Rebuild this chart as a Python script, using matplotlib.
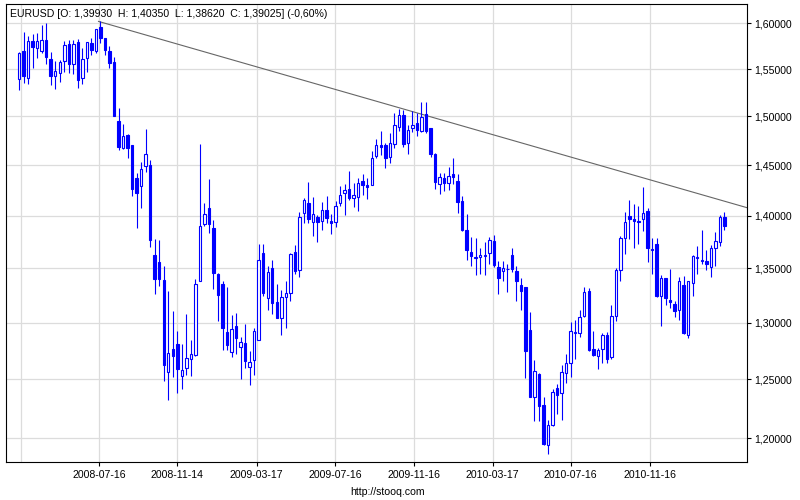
import pandas as pd
import matplotlib
matplotlib.use('Agg')
import matplotlib.pyplot as plt
import matplotlib.dates as mdates
from matplotlib.ticker import FixedLocator, FixedFormatter, NullLocator

# weekly EURUSD candles, week ending Friday
dates = pd.date_range('2008-03-14', periods=157, freq='W-FRI')

opens = [
    1.5396, 1.5694, 1.5406, 1.5800, 1.5726, 1.5690, 1.5816, 1.5608, 1.5424, 1.5458,
    1.5583, 1.5773, 1.5550, 1.5788, 1.5406, 1.5618, 1.5777, 1.5694, 1.5957, 1.5838,
    1.5698, 1.5575, 1.4948, 1.4674, 1.4806, 1.4702, 1.4373, 1.4290, 1.4494, 1.4507,
    1.3630, 1.3561, 1.3395, 1.2565, 1.2765, 1.2809, 1.2530, 1.2601, 1.2681, 1.2717,
    1.3383, 1.3922, 1.4078, 1.3886, 1.3452, 1.3353, 1.2920, 1.2744, 1.2970, 1.2788,
    1.2818, 1.2610, 1.2669, 1.2848, 1.3649, 1.3223, 1.3506, 1.3187, 1.3042, 1.3232,
    1.3274, 1.3652, 1.3482, 1.4031, 1.4127, 1.3942, 1.3990, 1.3952, 1.4059, 1.3952,
    1.3942, 1.4121, 1.4225, 1.4268, 1.4176, 1.4183, 1.4346, 1.4307, 1.4300, 1.4591,
    1.4702, 1.4705, 1.4580, 1.4715, 1.4892, 1.5014, 1.4726, 1.4875, 1.4934, 1.4851,
    1.5021, 1.4875, 1.4615, 1.4314, 1.4376, 1.4323, 1.4415, 1.4346, 1.4150, 1.3868,
    1.3657, 1.3602, 1.3605, 1.3612, 1.3641, 1.3762, 1.3509, 1.3473, 1.3491, 1.3624,
    1.3473, 1.3349, 1.3327, 1.2940, 1.2348, 1.2548, 1.2283, 1.1944, 1.2114, 1.2424,
    1.2382, 1.2554, 1.2642, 1.2908, 1.2905, 1.3061, 1.3291, 1.2768, 1.2702, 1.2768,
    1.2893, 1.2700, 1.3058, 1.3482, 1.3785, 1.4000, 1.3971, 1.3955, 1.3971, 1.4049,
    1.3686, 1.3734, 1.3242, 1.3412, 1.3212, 1.3167, 1.3112, 1.3348, 1.2890, 1.3360,
    1.3602, 1.3573, 1.3573, 1.3515, 1.3692, 1.3753, 1.39930,
]
highs = [
    1.5683, 1.5900, 1.5860, 1.5880, 1.5896, 1.5980, 1.6007, 1.5687, 1.5590, 1.5600,
    1.5806, 1.5810, 1.5820, 1.5830, 1.5723, 1.5795, 1.5842, 1.5935, 1.6020, 1.5842,
    1.5744, 1.5630, 1.5087, 1.4920, 1.4816, 1.4709, 1.4422, 1.4528, 1.4868, 1.4558,
    1.3776, 1.3770, 1.3526, 1.3289, 1.3109, 1.2928, 1.2812, 1.3081, 1.2848, 1.3404,
    1.4714, 1.4130, 1.4364, 1.3964, 1.3460, 1.3380, 1.3328, 1.3072, 1.3093, 1.2869,
    1.2991, 1.2750, 1.2955, 1.3727, 1.3727, 1.3523, 1.3574, 1.3359, 1.3298, 1.3380,
    1.3646, 1.3720, 1.4040, 1.4173, 1.4337, 1.4180, 1.4010, 1.4140, 1.4196, 1.4019,
    1.4150, 1.4294, 1.4317, 1.4444, 1.4327, 1.4369, 1.4408, 1.4376, 1.4639, 1.4771,
    1.4844, 1.4726, 1.4823, 1.5038, 1.5073, 1.5066, 1.4906, 1.5056, 1.5035, 1.5149,
    1.5146, 1.4882, 1.4625, 1.4422, 1.4425, 1.4480, 1.4570, 1.4415, 1.4199, 1.4020,
    1.3795, 1.3791, 1.3695, 1.3746, 1.3798, 1.3820, 1.3570, 1.3573, 1.3541, 1.3695,
    1.3519, 1.3409, 1.3330, 1.3094, 1.2672, 1.2553, 1.2348, 1.2156, 1.2415, 1.2463,
    1.2630, 1.2723, 1.3009, 1.3030, 1.3112, 1.3330, 1.3315, 1.2923, 1.2777, 1.2910,
    1.2920, 1.3158, 1.3500, 1.3804, 1.4036, 1.4160, 1.4118, 1.4101, 1.4288, 1.4075,
    1.3788, 1.3788, 1.3439, 1.3415, 1.3494, 1.3197, 1.3418, 1.3427, 1.3385, 1.3628,
    1.3714, 1.3868, 1.3676, 1.3721, 1.3843, 1.4013, 1.40350,
]
lows = [
    1.5278, 1.5347, 1.5340, 1.5507, 1.5615, 1.5670, 1.5554, 1.5327, 1.5290, 1.5365,
    1.5472, 1.5455, 1.5451, 1.5299, 1.5340, 1.5472, 1.5647, 1.5676, 1.5777, 1.5651,
    1.5507, 1.5000, 1.4650, 1.4660, 1.4570, 1.4195, 1.3886, 1.4080, 1.4428, 1.3698,
    1.3259, 1.3337, 1.2486, 1.2327, 1.2520, 1.2384, 1.2421, 1.2538, 1.2532, 1.2708,
    1.3380, 1.3900, 1.3831, 1.3304, 1.3021, 1.2759, 1.2759, 1.2700, 1.2720, 1.2505,
    1.2601, 1.2452, 1.2535, 1.2848, 1.3247, 1.3115, 1.3081, 1.3040, 1.2887, 1.2958,
    1.3202, 1.3443, 1.3420, 1.3933, 1.3933, 1.3804, 1.3746, 1.3868, 1.3933, 1.3830,
    1.3894, 1.4095, 1.4006, 1.4157, 1.4085, 1.4046, 1.4203, 1.4166, 1.4300, 1.4577,
    1.4601, 1.4474, 1.4525, 1.4670, 1.4844, 1.4680, 1.4618, 1.4840, 1.4799, 1.4834,
    1.4823, 1.4580, 1.4265, 1.4216, 1.4248, 1.4258, 1.4310, 1.4029, 1.3855, 1.3583,
    1.3522, 1.3442, 1.3448, 1.3436, 1.3541, 1.3516, 1.3264, 1.3382, 1.3282, 1.3464,
    1.3194, 1.3115, 1.2511, 1.2350, 1.2142, 1.2142, 1.1944, 1.1869, 1.2105, 1.2207,
    1.2150, 1.2472, 1.2517, 1.2680, 1.2875, 1.3055, 1.2747, 1.2705, 1.2589, 1.2640,
    1.2640, 1.2680, 1.3021, 1.3385, 1.3634, 1.3779, 1.3689, 1.3734, 1.3859, 1.3563,
    1.3445, 1.3235, 1.2970, 1.3158, 1.3130, 1.3052, 1.3024, 1.2900, 1.2866, 1.3242,
    1.3445, 1.3541, 1.3485, 1.3424, 1.3518, 1.3708, 1.38620,
]
closes = [
    1.5672, 1.5424, 1.5802, 1.5737, 1.5800, 1.5816, 1.5626, 1.5424, 1.5480, 1.5579,
    1.5762, 1.5550, 1.5770, 1.5382, 1.5608, 1.5791, 1.5701, 1.5932, 1.5838, 1.5701,
    1.5564, 1.5007, 1.4684, 1.4795, 1.4674, 1.4263, 1.4227, 1.4460, 1.4615, 1.3769,
    1.3404, 1.3404, 1.2622, 1.2729, 1.2708, 1.2592, 1.2580, 1.2684, 1.2720, 1.3359,
    1.3903, 1.4019, 1.3919, 1.3455, 1.3256, 1.2958, 1.2806, 1.2943, 1.2860, 1.2827,
    1.2663, 1.2652, 1.2926, 1.3574, 1.3274, 1.3467, 1.3184, 1.3042, 1.3232, 1.3268,
    1.3633, 1.3479, 1.3990, 1.4160, 1.3971, 1.4019, 1.3942, 1.4059, 1.3978, 1.3930,
    1.4098, 1.4203, 1.4258, 1.4173, 1.4206, 1.4323, 1.4300, 1.4287, 1.4577, 1.4709,
    1.4688, 1.4570, 1.4729, 1.4910, 1.5014, 1.4719, 1.4854, 1.4910, 1.4861, 1.4993,
    1.4844, 1.4615, 1.4330, 1.4382, 1.4323, 1.4395, 1.4379, 1.4134, 1.3862, 1.3669,
    1.3621, 1.3608, 1.3624, 1.3624, 1.3769, 1.3531, 1.3406, 1.3503, 1.3494, 1.3494,
    1.3379, 1.3288, 1.2747, 1.2353, 1.2575, 1.2269, 1.1953, 1.2114, 1.2390, 1.2362,
    1.2564, 1.2642, 1.2929, 1.2914, 1.3055, 1.3282, 1.2756, 1.2714, 1.2756, 1.2895,
    1.2678, 1.3058, 1.3485, 1.3788, 1.3942, 1.3968, 1.3952, 1.3939, 1.4029, 1.3689,
    1.3669, 1.3242, 1.3409, 1.3224, 1.3188, 1.3106, 1.3382, 1.2905, 1.3382, 1.3615,
    1.3608, 1.3580, 1.3544, 1.3695, 1.3756, 1.3993, 1.39025,
]

# resistance line from the 2008 top
trend_dates = ['2008-07-15', '2011-04-15']
trend_prices = [1.6020, 1.4080]

y_ticks = [1.20, 1.25, 1.30, 1.35, 1.40, 1.45, 1.50, 1.55, 1.60]
x_tick_dates = ['2008-07-16', '2008-11-14', '2009-03-17', '2009-07-16',
                '2009-11-16', '2010-03-17', '2010-07-16', '2010-11-16']
x_grid_dates = ['2008-03-17'] + x_tick_dates

title = 'EURUSD [O: 1,39930  H: 1,40350  L: 1,38620  C: 1,39025] (-0,60%)'

blue = '#0000ff'
grid_col = '#dcdcdc'
font = 'Liberation Sans'
fs = 7.6

xs = mdates.date2num(dates)
o = pd.Series(opens)
c = pd.Series(closes)
up = (c >= o).values
body_lo = pd.concat([o, c], axis=1).min(axis=1).values
body_hi = pd.concat([o, c], axis=1).max(axis=1).values

fig = plt.figure(figsize=(8, 5), dpi=100)
ax = fig.add_axes([5.5 / 800, 38 / 500, 741.5 / 800, 457.7 / 500])
ax.set_yscale('log')

for d in x_grid_dates:
    ax.axvline(mdates.date2num(pd.Timestamp(d)), color=grid_col, lw=0.9, zorder=0)
for v in y_ticks:
    ax.axhline(v, color=grid_col, lw=0.9, zorder=0)

ax.plot(mdates.date2num(pd.to_datetime(trend_dates)), trend_prices,
        color='#666666', lw=0.8, zorder=1)

ax.vlines(xs, lows, highs, color=blue, lw=0.8, zorder=2)
w = 3.8
ax.bar(xs[up], body_hi[up] - body_lo[up], bottom=body_lo[up], width=w,
       facecolor='white', edgecolor=blue, lw=0.8, zorder=3)
ax.bar(xs[~up], body_hi[~up] - body_lo[~up], bottom=body_lo[~up], width=w,
       facecolor=blue, edgecolor=blue, lw=0.8, zorder=3)

ax.set_xlim(mdates.date2num(pd.Timestamp('2008-02-22')),
            mdates.date2num(pd.Timestamp('2011-04-15')))
ax.set_ylim(1.1805, 1.6211)

ax.yaxis.tick_right()
ax.yaxis.set_major_locator(FixedLocator(y_ticks))
ax.yaxis.set_major_formatter(FixedFormatter([f'{v:.5f}'.replace('.', ',') for v in y_ticks]))
ax.yaxis.set_minor_locator(NullLocator())
ax.xaxis.set_major_locator(FixedLocator(mdates.date2num(pd.to_datetime(x_tick_dates))))
ax.xaxis.set_major_formatter(FixedFormatter(x_tick_dates))
ax.xaxis.set_minor_locator(NullLocator())
ax.tick_params(axis='both', direction='out', length=3, width=0.8, color='black',
               labelsize=fs, pad=2.5)
for lab in ax.get_xticklabels() + ax.get_yticklabels():
    lab.set_family(font)

for s in ax.spines.values():
    s.set_linewidth(0.8)
    s.set_color('black')

ax.text(0.006, 0.979, title, transform=ax.transAxes, ha='left', va='center',
        fontsize=fs, family=font)
fig.text(388 / 800, 1 - 492 / 500, 'http://stooq.com', ha='center', va='center',
         fontsize=fs, family=font)

fig.savefig('out.png', dpi=100)
